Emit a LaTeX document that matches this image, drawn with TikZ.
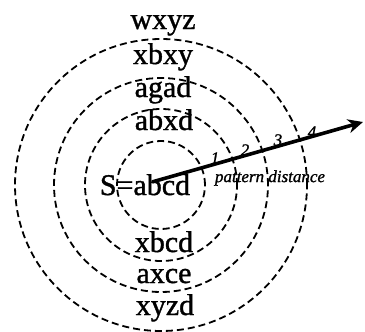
\documentclass[tikz,border=0pt]{standalone}
\usepackage{fontspec}
\setmainfont{Liberation Serif}
\newfontfamily\scanfont{Liberation Serif}[FakeBold=1.2]
\usetikzlibrary{arrows.meta}

\begin{document}
\begin{tikzpicture}[x=1pt,y=-1pt,
  ring/.style={draw,circle,dash pattern=on 7pt off 4pt,line width=1.8pt,inner sep=0pt},
  word/.style={font=\scanfont\fontsize{30}{32}\selectfont,anchor=base,inner sep=0pt},
  small/.style={font=\scanfont\fontsize{17}{18}\selectfont\itshape,inner sep=0pt}]
  \useasboundingbox (0,0) rectangle (365,332);
  % rings of growing distance
  \node[ring,minimum size=88pt] (r1) at (161,185) {};
  \node[ring,minimum size=152pt] (r2) at (161,185) {};
  \node[ring,minimum size=214pt] (r3) at (161,185) {};
  \node[ring,minimum size=292pt] (r4) at (161,185) {};
  % strings
  \node[word] (wxyz) at (163,29) {wxyz};
  \node[word] (xbxy) at (163,64) {xbxy};
  \node[word] (agad) at (163,97) {agad};
  \node[word] (abxd) at (164,130) {abxd};
  \node[word] (seed) at (145,195) {S=abcd};
  \node[word] (xbcd) at (164,252) {xbcd};
  \node[word] (axce) at (164,283) {axce};
  \node[word] (xyzd) at (165,315) {xyzd};
  % distance arrow
  \coordinate (start) at (152,182);
  \coordinate (tip) at (363,122);
  \draw[line width=3.6pt,-{Stealth[length=15pt,width=14pt]}] (start) -- (tip);
  \node[small] (d1) at (215,158) {1};
  \node[small] (d2) at (245,150) {2};
  \node[small] (d3) at (278,140) {3};
  \node[small] (d4) at (312,132) {4};
  \node[small] (dist) at (270,178) {pattern distance};
\end{tikzpicture}
\end{document}
